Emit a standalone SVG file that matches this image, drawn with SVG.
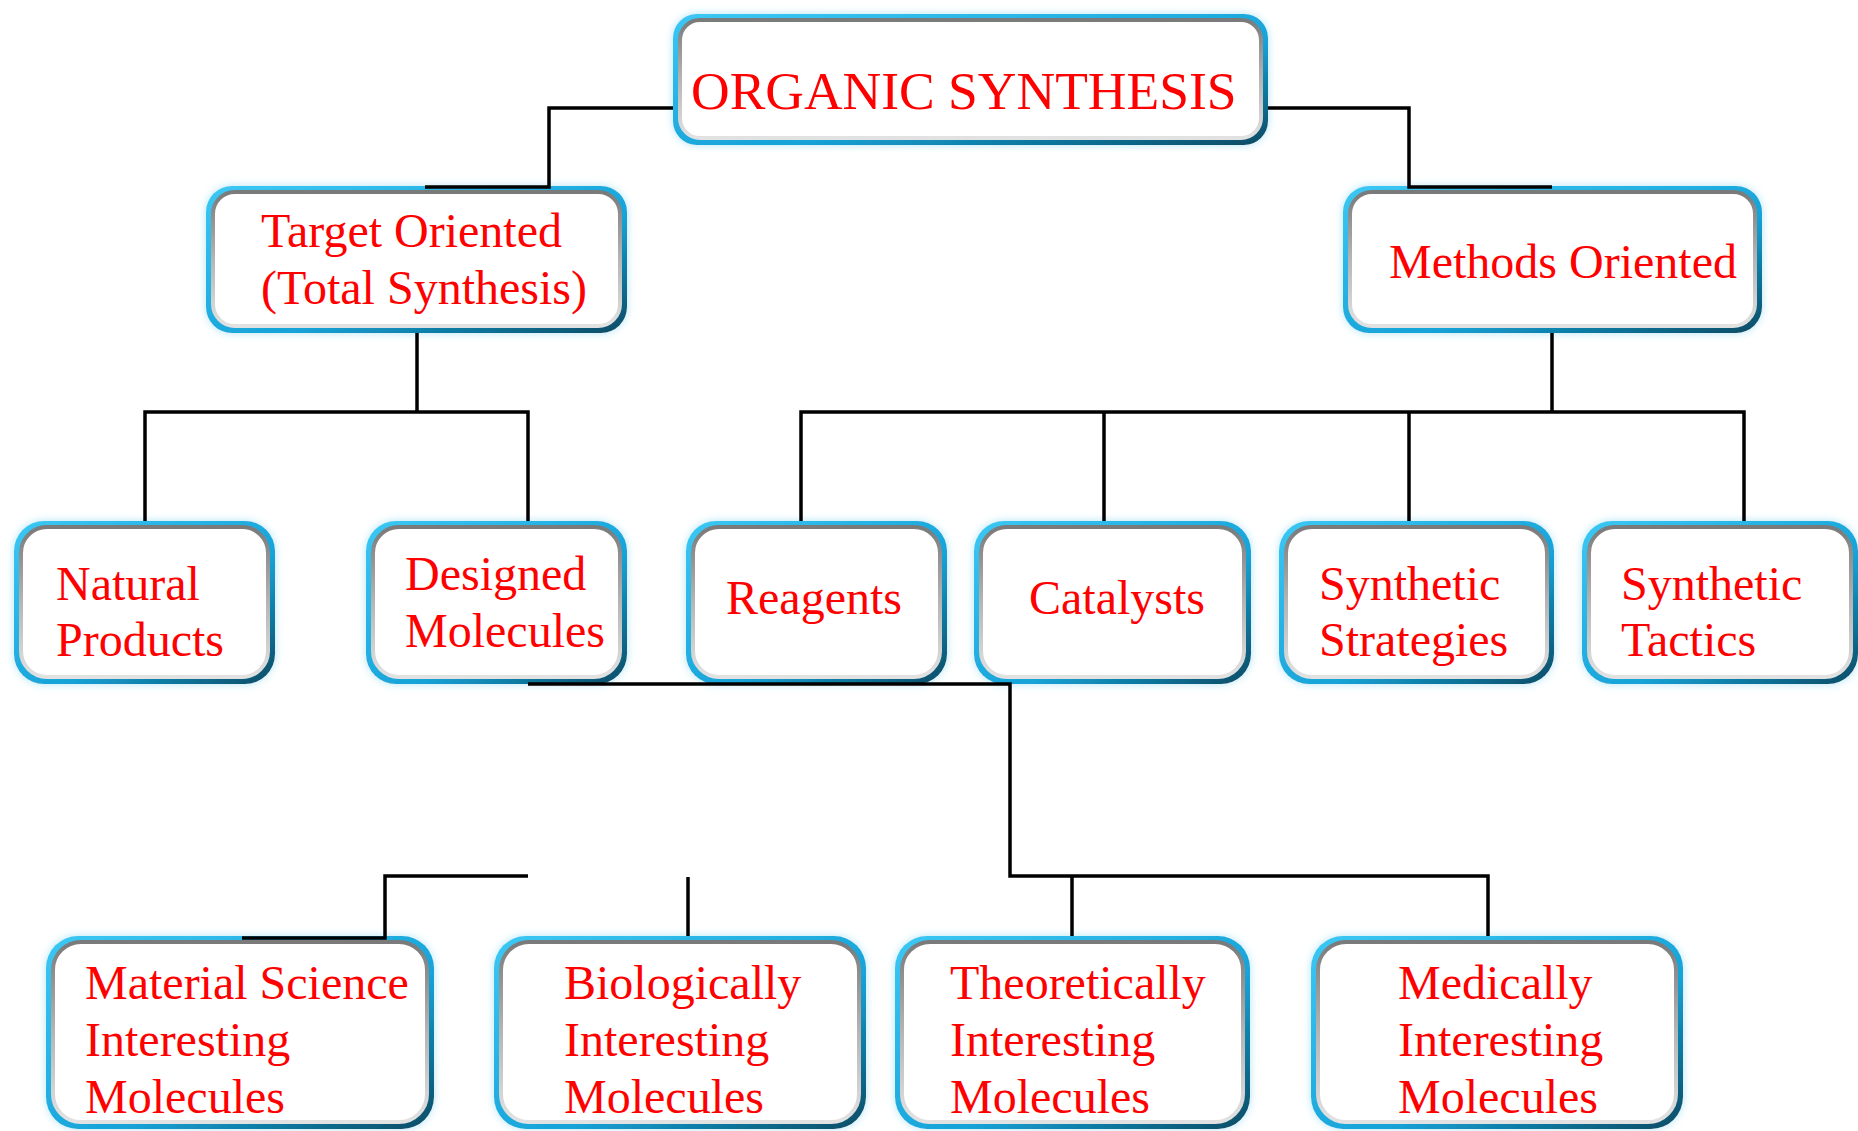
<svg xmlns="http://www.w3.org/2000/svg" width="1858" height="1131" viewBox="0 0 1858 1131">
<style>
.t{font-family:"Liberation Serif","Times New Roman",serif;font-size:48px;fill:#ff0000}
.title{font-size:53.5px}
.c{fill:none;stroke:#000;stroke-width:3.5}
.outer{fill:url(#blue);filter:url(#glow)}
.inner{fill:#fff;stroke:url(#bevel);stroke-width:4}
</style>
<defs>
<linearGradient id="blue" x1="0" y1="0" x2="1" y2="1">
<stop offset="0" stop-color="#3cc8f4"/>
<stop offset="0.6" stop-color="#16a3d8"/>
<stop offset="1" stop-color="#074a63"/>
</linearGradient>
<linearGradient id="bevel" x1="0" y1="0" x2="0" y2="1">
<stop offset="0" stop-color="#7a7a7a"/>
<stop offset="0.5" stop-color="#b5b5b5"/>
<stop offset="1" stop-color="#e2e2e2"/>
</linearGradient>
<filter id="glow" x="-10%" y="-20%" width="120%" height="140%">
<feDropShadow dx="0" dy="0" stdDeviation="4" flood-color="#9fdff5" flood-opacity="0.8"/>
</filter>
</defs>

<g id="organic-synthesis">
<rect class="outer" x="673" y="14" width="595" height="131" rx="24"/>
<rect class="inner" x="680" y="20" width="581" height="118" rx="20"/>
<text class="t title" x="691" y="109">ORGANIC SYNTHESIS</text>
</g>

<g id="target-oriented">
<rect class="outer" x="206" y="186" width="421" height="147" rx="26"/>
<rect class="inner" x="213" y="192" width="407" height="134" rx="22"/>
<text class="t" x="261" y="247">Target Oriented</text>
<text class="t" x="261" y="304">(Total Synthesis)</text>
</g>

<g id="methods-oriented">
<rect class="outer" x="1343" y="186" width="419" height="147" rx="26"/>
<rect class="inner" x="1350" y="192" width="405" height="134" rx="22"/>
<text class="t" x="1389" y="278">Methods Oriented</text>
</g>

<g id="natural-products">
<rect class="outer" x="14" y="521" width="261" height="163" rx="30"/>
<rect class="inner" x="21" y="527" width="247" height="150" rx="26"/>
<text class="t" x="56" y="600">Natural</text>
<text class="t" x="56" y="656">Products</text>
</g>

<g id="designed-molecules">
<rect class="outer" x="366" y="521" width="261" height="163" rx="30"/>
<rect class="inner" x="373" y="527" width="247" height="150" rx="26"/>
<text class="t" x="405" y="590">Designed</text>
<text class="t" x="405" y="647">Molecules</text>
</g>

<g id="reagents">
<rect class="outer" x="686" y="521" width="261" height="163" rx="30"/>
<rect class="inner" x="693" y="527" width="247" height="150" rx="26"/>
<text class="t" x="726" y="614">Reagents</text>
</g>

<g id="catalysts">
<rect class="outer" x="974" y="521" width="277" height="163" rx="30"/>
<rect class="inner" x="981" y="527" width="263" height="150" rx="26"/>
<text class="t" x="1029" y="614">Catalysts</text>
</g>

<g id="synthetic-strategies">
<rect class="outer" x="1279" y="521" width="275" height="163" rx="30"/>
<rect class="inner" x="1286" y="527" width="261" height="150" rx="26"/>
<text class="t" x="1319" y="600">Synthetic</text>
<text class="t" x="1319" y="656">Strategies</text>
</g>

<g id="synthetic-tactics">
<rect class="outer" x="1582" y="521" width="276" height="163" rx="30"/>
<rect class="inner" x="1589" y="527" width="262" height="150" rx="26"/>
<text class="t" x="1621" y="600">Synthetic</text>
<text class="t" x="1621" y="656">Tactics</text>
</g>

<g id="material-science">
<rect class="outer" x="46" y="936" width="388" height="193" rx="32"/>
<rect class="inner" x="53" y="942" width="374" height="180" rx="28"/>
<text class="t" x="85" y="999">Material Science</text>
<text class="t" x="85" y="1056">Interesting</text>
<text class="t" x="85" y="1113">Molecules</text>
</g>

<g id="biologically">
<rect class="outer" x="494" y="936" width="372" height="193" rx="32"/>
<rect class="inner" x="501" y="942" width="358" height="180" rx="28"/>
<text class="t" x="564" y="999">Biologically</text>
<text class="t" x="564" y="1056">Interesting</text>
<text class="t" x="564" y="1113">Molecules</text>
</g>

<g id="theoretically">
<rect class="outer" x="895" y="936" width="355" height="193" rx="32"/>
<rect class="inner" x="902" y="942" width="341" height="180" rx="28"/>
<text class="t" x="950" y="999">Theoretically</text>
<text class="t" x="950" y="1056">Interesting</text>
<text class="t" x="950" y="1113">Molecules</text>
</g>

<g id="medically">
<rect class="outer" x="1311" y="936" width="372" height="193" rx="32"/>
<rect class="inner" x="1318" y="942" width="358" height="180" rx="28"/>
<text class="t" x="1398" y="999">Medically</text>
<text class="t" x="1398" y="1056">Interesting</text>
<text class="t" x="1398" y="1113">Molecules</text>
</g>

<g id="connectors">
<polyline class="c" points="673,108 549,108 549,187 425,187"/>
<polyline class="c" points="1268,108 1409,108 1409,187 1552,187"/>
<line class="c" x1="417" y1="333" x2="417" y2="412"/>
<polyline class="c" points="145,521 145,412 528,412 528,521"/>
<line class="c" x1="1552" y1="333" x2="1552" y2="412"/>
<polyline class="c" points="801,521 801,412 1744,412 1744,521"/>
<line class="c" x1="1104" y1="412" x2="1104" y2="521"/>
<line class="c" x1="1409" y1="412" x2="1409" y2="521"/>
<polyline class="c" points="528,684 1010,684 1010,876 1488,876 1488,936"/>
<line class="c" x1="1072" y1="876" x2="1072" y2="936"/>
<polyline class="c" points="528,876 385,876 385,938 242,938"/>
<line class="c" x1="688" y1="877" x2="688" y2="936"/>
</g>
</svg>
